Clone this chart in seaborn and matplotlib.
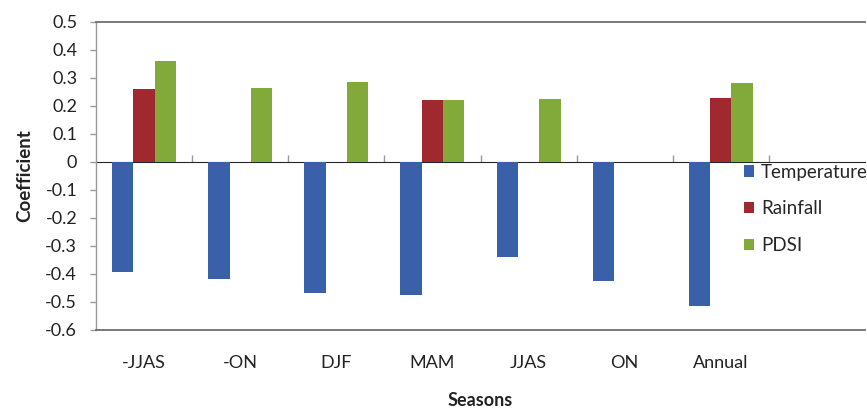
import numpy as np
import pandas as pd
import matplotlib
matplotlib.use("Agg")
import matplotlib.pyplot as plt
import seaborn as sns
from matplotlib.ticker import FixedLocator, FuncFormatter

seasons = ["-JJAS", "-ON", "DJF", "MAM", "JJAS", "ON", "Annual"]
temperature = [-0.394, -0.419, -0.468, -0.474, -0.340, -0.425, -0.515]
rainfall = [0.260, np.nan, np.nan, 0.220, np.nan, np.nan, 0.228]
pdsi = [0.362, 0.263, 0.285, 0.220, 0.226, np.nan, 0.282]
series_names = ["Temperature", "Rainfall", "PDSI"]
series_colors = ["#3B60AA", "#A0282F", "#82AA3A"]
y_ticks = [-0.6, -0.5, -0.4, -0.3, -0.2, -0.1, 0, 0.1, 0.2, 0.3, 0.4, 0.5]

df = pd.DataFrame({
    "Season": seasons * 3,
    "Variable": [n for n in series_names for _ in seasons],
    "Coefficient": temperature + rainfall + pdsi,
})

sns.set_style("white")
plt.rcParams["font.family"] = ["Lato", "DejaVu Sans"]
plt.rcParams["axes.unicode_minus"] = False

fig = plt.figure(figsize=(8.67, 4.08), dpi=100)
ax = fig.add_axes([96 / 867, 1 - 330 / 408, (865 - 96) / 867, (330 - 22) / 408])

sns.barplot(data=df, x="Season", y="Coefficient", hue="Variable",
            order=seasons, hue_order=series_names, palette=series_colors,
            width=0.665, saturation=1, errorbar=None, ax=ax,
            edgecolor="none")

n = len(seasons)
ax.set_xlim(-0.5, n + 0.5)
ax.set_ylim(-0.6, 0.5)

ax.yaxis.set_major_locator(FixedLocator(y_ticks))
ax.yaxis.set_major_formatter(FuncFormatter(lambda v, p: "0" if abs(v) < 1e-9 else f"{v:.1f}"))
ax.tick_params(axis="y", direction="out", length=4.5, width=1, color="#9a9a9a",
               pad=9, labelsize=13, labelcolor="#222222", left=True)
ax.tick_params(axis="x", length=0, pad=18, labelsize=13, labelcolor="#222222")

for side in ["top", "bottom"]:
    ax.spines[side].set_color("#6e6e6e")
    ax.spines[side].set_linewidth(1.3)
ax.spines["left"].set_color("#9a9a9a")
ax.spines["left"].set_linewidth(1.0)
ax.spines["right"].set_visible(False)

# category axis crossing at zero, with tick marks between seasons
zero_loc = (0 - (-0.6)) / (0.5 - (-0.6))
sec = ax.secondary_xaxis(zero_loc)
sec.set_xticks(np.arange(0.5, n, 1.0))
sec.set_xticklabels([])
sec.tick_params(direction="out", length=5, width=1, color="#9a9a9a")
sec.spines["bottom"].set_color("#a6a6a6")
sec.spines["bottom"].set_linewidth(1.2)

ax.set_xlabel("Seasons", fontsize=13, fontweight="bold", labelpad=15, color="#222222")
ax.set_ylabel("Coefficient", fontsize=13.5, fontweight="bold", labelpad=9, color="#222222")

leg = ax.legend(loc="upper left", bbox_to_anchor=(0.8427, 0.54), frameon=False,
                fontsize=13.5, handlelength=0.55, handleheight=0.55, handletextpad=0.35,
                labelspacing=1.05, borderaxespad=0, borderpad=0)
leg.set_title(None)

fig.savefig("out.png", dpi=100, facecolor="white")
